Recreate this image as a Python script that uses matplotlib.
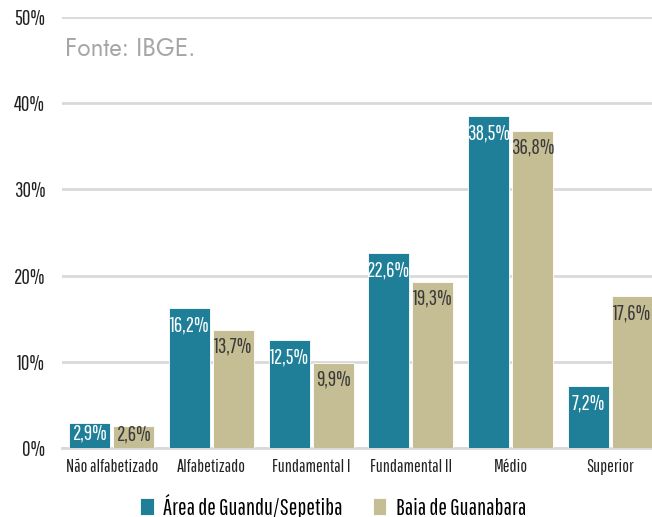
import matplotlib
matplotlib.use("Agg")
import matplotlib.pyplot as plt
from matplotlib import font_manager as fm
import numpy as np

names = {f.name for f in fm.fontManager.ttflist}
COND = next((n for n in ["Pathway Gothic One", "Yanone Kaffeesatz", "Barlow Condensed",
                         "Roboto Condensed", "DejaVu Sans"] if n in names))
LIGHT = next((n for n in ["Jost", "Lato", "DejaVu Sans"] if n in names))

categories = ["Não alfabetizado", "Alfabetizado", "Fundamental I", "Fundamental II", "Médio", "Superior"]
series_names = ["Área de Guandu/Sepetiba", "Baia de Guanabara"]
guandu = [2.9, 16.2, 12.5, 22.6, 38.5, 7.2]
guanabara = [2.6, 13.7, 9.9, 19.3, 36.8, 17.6]
yticks = [0, 10, 20, 30, 40, 50]
ytick_labels = ["0%", "10%", "20%", "30%", "40%", "50%"]

TEAL = "#1f7f98"
KHAKI = "#c5bd93"

W, H = 652, 517
fig = plt.figure(figsize=(W / 100, H / 100), dpi=100)
left, right = 62, 652
top, bottom = 17, 448
ax = fig.add_axes([left / W, 1 - bottom / H, (right - left) / W, (bottom - top) / H])
ax.set_xlim(-0.5, 5.42)
ax.set_ylim(0, 50)

x = np.arange(len(categories))
bw = 0.41
off = 0.22
b1 = ax.bar(x - off, guandu, bw, color=TEAL, edgecolor="white", linewidth=0.6, zorder=3,
            label=series_names[0])
b2 = ax.bar(x + off, guanabara, bw, color=KHAKI, edgecolor="white", linewidth=0.6, zorder=3,
            label=series_names[1])

px_per_unit = (bottom - top) / 50.0
for bars, vals, col in ((b1, guandu, "white"), (b2, guanabara, "#3a3a3a")):
    for r, v in zip(bars, vals):
        hpx = v * px_per_unit
        offpx = min(17, 0.4 * hpx)
        ax.annotate(f"{v:.1f}%".replace(".", ","),
                    (r.get_x() + r.get_width() / 2, v), xytext=(0, -offpx),
                    textcoords="offset pixels", ha="center", va="center",
                    color=col, fontsize=15, family=COND, zorder=4)

ax.set_yticks(yticks)
ax.set_yticklabels(ytick_labels, family=COND, fontsize=15, color="#222222")
ax.grid(axis="y", color="#d9d9d9", linewidth=2, zorder=0)
ax.tick_params(axis="y", length=0, pad=12)
ax.set_xticks(x)
ax.set_xticklabels(categories, family=COND, fontsize=13, color="#222222")
ax.tick_params(axis="x", length=0, pad=8)
for s in ("top", "right", "left"):
    ax.spines[s].set_visible(False)
ax.spines["bottom"].set_color("#d9d9d9")
ax.spines["bottom"].set_linewidth(2)

fig.text(65 / W, 1 - 49 / H, "Fonte: IBGE.", fontsize=17.5, color="#a6a6a6",
         family=LIGHT, fontweight="normal", va="center", ha="left")

leg = fig.legend(handles=[b1, b2], labels=series_names, loc="center",
                 bbox_to_anchor=(0.511, 1 - 506 / H), ncol=2, frameon=False,
                 prop={"family": COND, "size": 16.5}, handlelength=0.6, handleheight=0.8,
                 handletextpad=0.4, columnspacing=1.3)

fig.savefig("out.png", dpi=100)
